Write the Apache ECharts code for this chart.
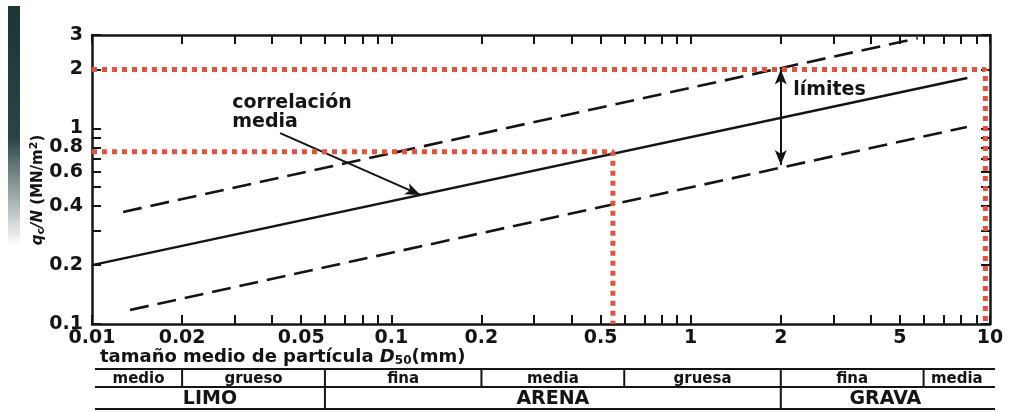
<!DOCTYPE html>
<html><head><meta charset="utf-8">
<script src="https://cdn.jsdelivr.net/npm/echarts@6/dist/echarts.min.js"></script>
<style>html,body{margin:0;padding:0;background:#fff}#c{width:1012px;height:412px}</style>
</head><body><div id="c"></div>
<script>
// ---- data ----
const xTickLabels = [0.01, 0.02, 0.05, 0.1, 0.2, 0.5, 1, 2, 5, 10];
const xTicks = [0.01,0.02,0.03,0.04,0.05,0.06,0.07,0.08,0.09,0.1,0.2,0.3,0.4,0.5,0.6,0.7,0.8,0.9,1,2,3,4,5,6,7,8,9,10];
const yTickLabels = [0.1, 0.2, 0.4, 0.6, 0.8, 1, 2, 3];
const yTicks = [0.1,0.2,0.3,0.4,0.5,0.6,0.7,0.8,0.9,1,2,3];

const meanLine   = [[0.01, 0.2], [8.4, 1.81]];
const upperLimit = [[0.0127, 0.374], [5.74, 2.89]];
const lowerLimit = [[0.0134, 0.118], [8.37, 1.016]];
const redPathA   = [[0.01, 2.0], [9.65, 2.0], [9.65, 0.1]];
const redPathB   = [[0.01, 0.76], [0.55, 0.76], [0.55, 0.1]];
const limitsArrow = [[2, 2.0], [2, 0.65]];
const meanArrow   = [[0.0425, 0.946], [0.125, 0.457]];
const limitsLabelAt = [2.2, 1.57];
const meanLabelAt   = [0.0294, 1.2];

const subClassBounds = [0.01, 0.02, 0.06, 0.2, 0.6, 2, 6, 10];
const subClassNames  = ['medio', 'grueso', 'fina', 'media', 'gruesa', 'fina', 'media'];
const mainBounds = [0.01, 0.06, 2, 10];
const mainNames  = ['LIMO', 'ARENA', 'GRAVA'];

// ---- chart ----
const FONT = 'DejaVu Sans';
const INK = '#141414';
const RED = '#e5513a';
const chart = echarts.init(document.getElementById('c'), null, {renderer: 'canvas'});

function logAxisX(pos, showLabel) {
  return {
    type: 'log', logBase: 10, min: 0.01, max: 10, position: pos,
    axisLine: {show: true, onZero: false, lineStyle: {color: INK, width: 2.5}},
    axisTick: {show: true, inside: true, length: 9, lineStyle: {color: INK, width: 2}, customValues: xTicks},
    minorTick: {show: false},
    splitLine: {show: false},
    axisLabel: {show: showLabel, customValues: xTickLabels, margin: 5, color: INK,
      fontFamily: FONT, fontWeight: 'bold', fontSize: 19, formatter: v => String(+v.toPrecision(6))}
  };
}
function logAxisY(pos, showLabel) {
  return {
    type: 'log', logBase: 10, min: 0.1, max: 3, position: pos,
    axisLine: {show: true, onZero: false, lineStyle: {color: INK, width: 2.5}},
    axisTick: {show: true, inside: true, length: 9, lineStyle: {color: INK, width: 2}, customValues: yTicks},
    minorTick: {show: false},
    splitLine: {show: false},
    axisLabel: {show: showLabel, customValues: yTickLabels, margin: 9, color: INK,
      fontFamily: FONT, fontWeight: 'bold', fontSize: 19, formatter: v => String(+v.toPrecision(6))}
  };
}

const option = {
  backgroundColor: '#ffffff',
  animation: false,
  grid: {left: 92, right: 22, top: 35, bottom: 88, containLabel: false},
  xAxis: [logAxisX('bottom', true), logAxisX('top', false)],
  yAxis: [logAxisY('left', true), logAxisY('right', false)],
  title: {
    left: 95, top: 342,
    text: 'tamaño medio de partícula {i|D}{s|50}(mm)',
    textStyle: {
      fontFamily: FONT, fontWeight: 'bold', fontSize: 18, color: INK,
      rich: {
        i: {fontFamily: FONT, fontWeight: 'bold', fontStyle: 'italic', fontSize: 18, color: INK},
        s: {fontFamily: FONT, fontWeight: 'bold', fontSize: 12, color: INK, verticalAlign: 'bottom', padding: [8, 0, 0, 0]}
      }
    }
  },
  series: [
    {type: 'line', data: meanLine, symbol: 'none', z: 3,
     lineStyle: {color: INK, width: 2.5},
     markLine: {silent: true, symbol: ['none', 'arrow'], symbolSize: [9, 15], label: {show: false},
       lineStyle: {color: INK, width: 2, type: 'solid'},
       data: [[{coord: meanArrow[0]}, {coord: meanArrow[1]}]]}},
    {type: 'line', data: upperLimit, symbol: 'none', z: 3,
     lineStyle: {color: INK, width: 2.6, type: [19, 9]}},
    {type: 'line', data: lowerLimit, symbol: 'none', z: 3,
     lineStyle: {color: INK, width: 2.6, type: [19, 9]},
     markLine: {silent: true, symbol: ['arrow', 'arrow'], symbolSize: [9, 15], label: {show: false},
       lineStyle: {color: INK, width: 2, type: 'solid'},
       data: [[{coord: limitsArrow[0]}, {coord: limitsArrow[1]}]]}},
    {type: 'line', data: redPathA, symbol: 'none', z: 5,
     lineStyle: {color: RED, width: 5, type: [5, 5]}},
    {type: 'line', data: redPathB, symbol: 'none', z: 5,
     lineStyle: {color: RED, width: 5, type: [5, 5]}}
  ]
};
chart.setOption(option);

// ---- annotations positioned through the axes ----
const px = v => chart.convertToPixel({xAxisIndex: 0}, v);
const pxy = p => chart.convertToPixel({xAxisIndex: 0, yAxisIndex: 0}, p);
const g = [];

// scan edge stripe
g.push({type: 'rect', shape: {x: 8, y: 6, width: 12, height: 240}, z: 0,
  style: {fill: new echarts.graphic.LinearGradient(0, 0, 0, 1, [
    {offset: 0, color: '#1c3636'}, {offset: 0.55, color: '#284444'}, {offset: 0.75, color: 'rgba(60,85,85,0.6)'}, {offset: 1, color: 'rgba(60,80,80,0)'}])}});

// y axis title
g.push({type: 'text', x: 38, y: 190, rotation: Math.PI / 2, z: 10,
  style: {text: '{i|q}{s|c}{i|/N} (MN/m{p|2})', align: 'center', verticalAlign: 'middle',
    textAlign: 'center', textVerticalAlign: 'middle',
    fontFamily: FONT, fontWeight: 'bold', fontSize: 15, fill: INK,
    rich: {
      i: {fontFamily: FONT, fontWeight: 'bold', fontStyle: 'italic', fontSize: 15, fill: INK, color: INK},
      s: {fontFamily: FONT, fontWeight: 'bold', fontSize: 11, fill: INK, color: INK, verticalAlign: 'bottom', padding: [7, 0, 0, 0]},
      p: {fontFamily: FONT, fontWeight: 'bold', fontSize: 11, fill: INK, color: INK, verticalAlign: 'top', padding: [0, 0, 7, 0]}
    }}});

// in-plot labels
const lp = pxy(limitsLabelAt);
g.push({type: 'text', x: lp[0], y: lp[1], z: 10,
  style: {text: 'límites', textVerticalAlign: 'middle', verticalAlign: 'middle',
    fontFamily: FONT, fontWeight: 'bold', fontSize: 19, fill: INK}});
const mp = pxy(meanLabelAt);
g.push({type: 'text', x: mp[0], y: mp[1], z: 10,
  style: {text: 'correlación\nmedia', textVerticalAlign: 'middle', verticalAlign: 'middle', lineHeight: 19,
    fontFamily: FONT, fontWeight: 'bold', fontSize: 19, fill: INK}});

// soil classification table
const tTop = 369, tMid = 387, tBot = 409;
const tx0 = px(mainBounds[0]) + 3, tx1 = px(mainBounds[mainBounds.length - 1]) + 5;
[tTop, tMid, tBot].forEach(y => g.push({type: 'line', shape: {x1: tx0, y1: y, x2: tx1, y2: y},
  style: {stroke: INK, lineWidth: 2}}));
subClassBounds.slice(1, -1).forEach(b => {
  const x = px(b);
  g.push({type: 'line', shape: {x1: x, y1: tTop, x2: x, y2: tMid}, style: {stroke: INK, lineWidth: 2}});
});
mainBounds.slice(1, -1).forEach(b => {
  const x = px(b);
  g.push({type: 'line', shape: {x1: x, y1: tMid, x2: x, y2: tBot}, style: {stroke: INK, lineWidth: 2}});
});
subClassNames.forEach((n, i) => {
  const a = Math.max(px(subClassBounds[i]), tx0), b = Math.min(px(subClassBounds[i + 1]), tx1);
  g.push({type: 'text', x: (a + b) / 2, y: (tTop + tMid) / 2 + 1,
    style: {text: n, align: 'center', verticalAlign: 'middle', textAlign: 'center', textVerticalAlign: 'middle',
      fontFamily: FONT, fontWeight: 'bold', fontSize: 15, fill: INK}});
});
mainNames.forEach((n, i) => {
  const a = Math.max(px(mainBounds[i]), tx0), b = Math.min(px(mainBounds[i + 1]), tx1);
  g.push({type: 'text', x: (a + b) / 2, y: (tMid + tBot) / 2 + 1,
    style: {text: n, align: 'center', verticalAlign: 'middle', textAlign: 'center', textVerticalAlign: 'middle',
      fontFamily: FONT, fontWeight: 'bold', fontSize: 19, fill: INK}});
});

chart.setOption({graphic: {elements: g}});
</script>
</body></html>
